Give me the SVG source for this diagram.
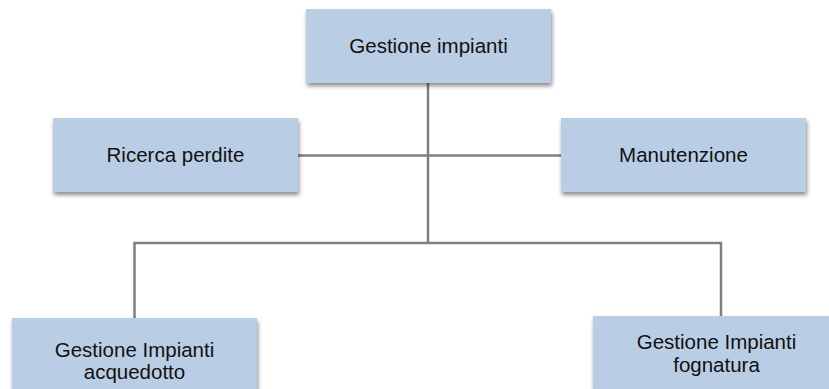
<svg xmlns="http://www.w3.org/2000/svg" width="829" height="389" viewBox="0 0 829 389">
<defs>
<filter id="sh" x="-10%" y="-10%" width="125%" height="140%">
<feDropShadow dx="1" dy="3" stdDeviation="2" flood-color="#000" flood-opacity="0.45"/>
</filter>
<style>
.box{fill:#b9cde4;filter:url(#sh);}
.t{font-family:"Liberation Sans",Arial,sans-serif;font-size:20.5px;fill:#111;text-anchor:middle;}
.c{fill:none;stroke:#7f7f7f;stroke-width:2.5;}
</style>
</defs>
<rect width="829" height="389" fill="#fff"/>
<g id="connectors">
<path class="c" d="M428 83 V243"/>
<path class="c" d="M298 155.5 H561"/>
<path class="c" d="M134.5 318 V243 H721 V316"/>
</g>
<g id="gestione-impianti">
<rect class="box" x="306" y="9" width="245" height="74"/>
<text class="t" x="428.5" y="53">Gestione impianti</text>
</g>
<g id="ricerca-perdite">
<rect class="box" x="53" y="118" width="245" height="74"/>
<text class="t" x="175.5" y="162">Ricerca perdite</text>
</g>
<g id="manutenzione">
<rect class="box" x="561" y="118" width="245" height="74"/>
<text class="t" x="683.5" y="162">Manutenzione</text>
</g>
<g id="gestione-acquedotto">
<rect class="box" x="12" y="318" width="245" height="74"/>
<text class="t" x="134.5" y="356.5">Gestione Impianti</text>
<text class="t" x="134.5" y="378.5">acquedotto</text>
</g>
<g id="gestione-fognatura">
<rect class="box" x="593" y="316" width="247" height="74"/>
<text class="t" x="716.5" y="348.5">Gestione Impianti</text>
<text class="t" x="716.5" y="371.5">fognatura</text>
</g>
</svg>
